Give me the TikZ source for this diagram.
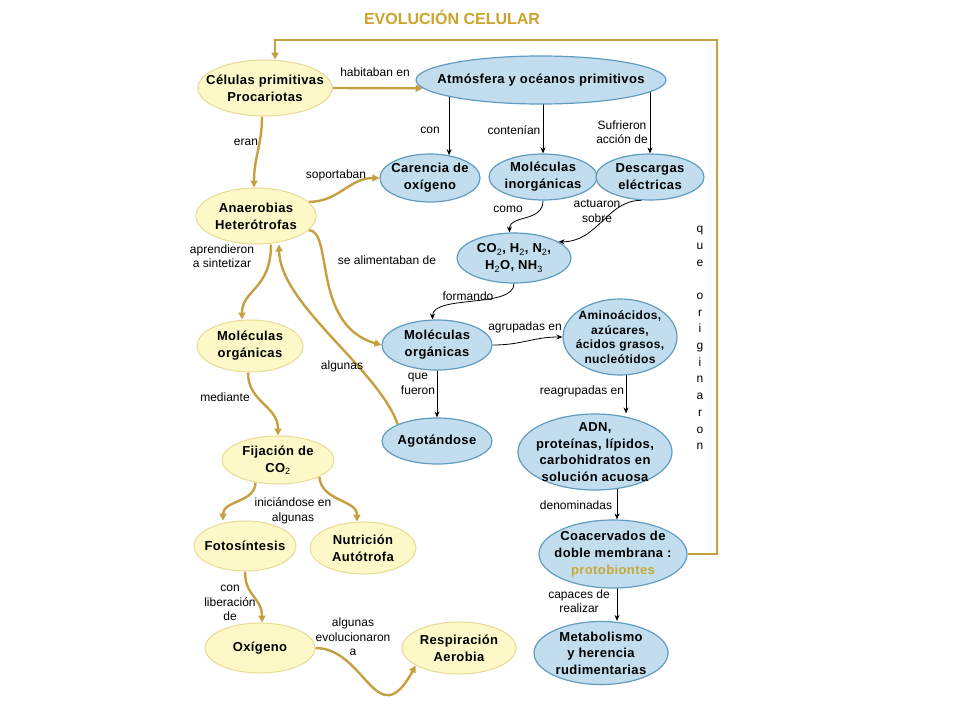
\documentclass[tikz,border=0pt]{standalone}
\usepackage{fontspec}
\setmainfont{Liberation Sans}
\newfontfamily\nodefont[LetterSpace=3]{Liberation Sans}
\usetikzlibrary{shapes.geometric,arrows.meta}
\pgfdeclarelayer{bg}
\pgfsetlayers{bg,main}
\definecolor{goldL}{RGB}{196,160,64}
\definecolor{titleC}{RGB}{204,164,44}
\definecolor{protoC}{RGB}{200,168,52}
\definecolor{yelF}{RGB}{253,248,200}
\definecolor{yelB}{RGB}{232,218,146}
\definecolor{bluF}{RGB}{194,222,238}
\definecolor{bluB}{RGB}{96,156,190}
\begin{document}
\begin{tikzpicture}[x=1pt,y=-1pt,
  yel/.style={ellipse, draw=yelB, fill=yelF, line width=1pt, inner sep=0pt},
  blu/.style={ellipse, draw=bluB, fill=bluF, line width=1.2pt, inner sep=0pt},
  ntxt/.style={font=\nodefont\bfseries\fontsize{13}{17}\selectfont, align=center, inner sep=0pt},
  stxt/.style={font=\nodefont\bfseries\fontsize{12}{14.5}\selectfont, align=center, inner sep=0pt},
  lbl/.style={font=\fontsize{12}{14.5}\selectfont, align=center, inner sep=0pt},
  garr/.style={draw=goldL, line width=2.4pt, -{Triangle[length=7pt,width=7pt]}},
  barr/.style={draw=black, line width=0.8pt, -{Stealth[length=6pt,width=5pt]}}]
\begin{pgfonlayer}{bg}
\fill[white] (0,0) rectangle (960,720);
\end{pgfonlayer}
\path[use as bounding box] (0,0) rectangle (960,720);

% title
\node[font=\bfseries\fontsize{16}{18}\selectfont, text=titleC] (title) at (452,17) {EVOLUCIÓN CELULAR};

% nodes
\node[yel,minimum width=134,minimum height=56] (cel) at (265,88) {};
\node[ntxt] (celT) at (cel) {Células primitivas\\Procariotas};
\node[blu,minimum width=250,minimum height=48] (atm) at (541,80) {};
\node[ntxt] (atmT) at (atm) {Atmósfera y océanos primitivos};
\node[blu,minimum width=100,minimum height=48] (car) at (430,178) {};
\node[ntxt] (carT) at (car) {Carencia de\\oxígeno};
\node[blu,minimum width=108,minimum height=46] (inorg) at (543,177) {};
\node[ntxt] (inorgT) at (inorg) {Moléculas\\inorgánicas};
\node[blu,minimum width=108,minimum height=46] (desc) at (650,177) {};
\node[ntxt] (descT) at (desc) {Descargas\\eléctricas};
\node[yel,minimum width=120,minimum height=56] (anae) at (256,216) {};
\node[ntxt] (anaeT) at (anae) {Anaerobias\\Heterótrofas};
\node[blu,minimum width=114,minimum height=50] (co2) at (514,258) {};
\node[ntxt] (co2T) at (co2) {CO\textsubscript{\mdseries 2}, H\textsubscript{\mdseries 2}, N\textsubscript{\mdseries 2},\\H\textsubscript{\mdseries 2}O, NH\textsubscript{\mdseries 3}};
\node[yel,minimum width=106,minimum height=52] (moly) at (250,346) {};
\node[ntxt] (molyT) at (moly) {Moléculas\\orgánicas};
\node[blu,minimum width=110,minimum height=50] (molo) at (437,345) {};
\node[ntxt] (moloT) at (molo) {Moléculas\\orgánicas};
\node[blu,minimum width=114,minimum height=76] (amino) at (620,337) {};
\node[stxt] (aminoT) at (amino) {Aminoácidos,\\azúcares,\\ácidos grasos,\\nucleótidos};
\node[blu,minimum width=110,minimum height=46] (agot) at (437,441) {};
\node[ntxt] (agotT) at (agot) {Agotándose};
\node[blu,minimum width=154,minimum height=76] (adn) at (595,452) {};
\node[ntxt,font=\nodefont\bfseries\fontsize{13}{16.5}\selectfont] (adnT) at (adn) {ADN,\\proteínas, lípidos,\\carbohidratos en\\solución acuosa};
\node[yel,minimum width=112,minimum height=48] (fij) at (278,460) {};
\node[ntxt] (fijT) at (fij) {Fijación de\\CO\textsubscript{\mdseries 2}};
\node[yel,minimum width=102,minimum height=50] (foto) at (245,546) {};
\node[ntxt] (fotoT) at (foto) {Fotosíntesis};
\node[yel,minimum width=106,minimum height=52] (nut) at (363,548) {};
\node[ntxt] (nutT) at (nut) {Nutrición\\Autótrofa};
\node[blu,minimum width=148,minimum height=68] (coac) at (613,554) {};
\node[ntxt] (coacT) at (coac) {Coacervados de\\doble membrana :\\{\color{protoC}protobiontes}};
\node[yel,minimum width=110,minimum height=50] (oxi) at (260,648) {};
\node[ntxt] (oxiT) at (oxi) {Oxígeno};
\node[yel,minimum width=114,minimum height=52] (resp) at (459,648) {};
\node[ntxt] (respT) at (resp) {Respiración\\Aerobia};
\node[blu,minimum width=134,minimum height=63] (meta) at (601,653) {};
\node[ntxt,font=\nodefont\bfseries\fontsize{13}{16.5}\selectfont] (metaT) at (meta) {Metabolismo\\y herencia\\rudimentarias};

% labels
\node[lbl] (l1) at (375,72) {habitaban en};
\node[lbl] (l2) at (430,130) {con};
\node[lbl] (l3) at (514,130) {contenían};
\node[lbl] (l4) at (622,132) {Sufrieron\\acción de};
\node[lbl] (l5) at (246,142) {eran};
\node[lbl] (l6) at (336,175) {soportaban};
\node[lbl] (l7) at (508,209) {como};
\node[lbl] (l8) at (597,211) {actuaron\\sobre};
\node[lbl] (l9) at (222,256) {aprendieron\\a sintetizar};
\node[lbl] (l10) at (387,260) {se alimentaban de};
\node[lbl] (l11) at (468,296) {formando};
\node[lbl] (l12) at (525,327) {agrupadas en};
\node[lbl] (l13) at (342,366) {algunas};
\node[lbl] (l14) at (418,384) {que\\fueron};
\node[lbl] (l15) at (225,397) {mediante};
\node[lbl] (l16) at (582,391) {reagrupadas en};
\node[lbl] (l17) at (293,511) {iniciándose en\\algunas};
\node[lbl] (l18) at (576,505) {denominadas};
\node[lbl] (l19) at (230,603) {con\\liberación\\de};
\node[lbl] (l20) at (579,601) {capaces de\\realizar};
\node[lbl] (l21) at (353,637) {algunas\\evolucionaron\\a};
\node[lbl,font=\fontsize{12}{16.7}\selectfont] (orig) at (700,338) {q\\u\\e\\[16.7pt]o\\r\\i\\g\\i\\n\\a\\r\\o\\n};

% connectors
\coordinate (lpR) at (717,40);
\coordinate (lpL) at (275,40);
\coordinate (dnx) at ([xshift=4pt]coac.north);
\coordinate (cpx) at ([xshift=4pt]coac.center);
\coordinate (rgx) at ([xshift=6pt]amino.center);
\begin{pgfonlayer}{bg}
\draw[barr] (car.50 |- atm.center) -- (car.50);
\draw[barr] (inorg.north |- atm.center) -- (inorg.north);
\draw[barr] (desc.north |- atm.center) -- (desc.north);
\draw[barr] (inorg.south) .. controls +(0,22) and +(0,-18) .. (co2.100);
\draw[barr] (desc.-110) .. controls +(-35,0) and +(40,0) .. (co2.20);
\draw[barr] (co2.south) .. controls +(0,25) and +(0,-25) .. (molo.100);
\draw[barr] (molo.east) .. controls +(30,0) and +(-30,0) .. (amino.west);
\draw[barr] (molo.south) -- (agot.north);
\draw[barr] (rgx) -- (rgx |- adn.north);
\draw[barr] (dnx |- adn.center) -- (dnx);
\draw[barr] (cpx) -- (cpx |- meta.north);

\draw[garr] (cel.east) -- (atm.184);
\draw[garr] (coac.east) -| (lpR) -- (lpL) -- (lpL |- cel.north);
\draw[garr] ([xshift=-3pt]cel.south) .. controls +(0,28) and +(0,-30) .. ([xshift=-2pt]anae.north);
\draw[garr] (anae.15) .. controls +(30,0) and +(-30,0) .. (car.west);
\draw[garr] (anae.-15) .. controls +(25,0) and +(-70,-20) .. (molo.west);
\draw[garr] ([xshift=15pt]anae.south) .. controls +(0,45) and +(0,-30) .. ([xshift=-8pt]moly.north);
\draw[garr] (agot.north west) .. controls +(-19,-55) and +(1,60) .. ([xshift=23pt]anae.south);
\draw[garr] ([xshift=-2pt]moly.south) .. controls +(0,30) and +(0,-30) .. (fij.north);
\draw[garr] (fij.-135) .. controls +(0,20) and +(0,-20) .. ([xshift=-22pt]foto.north);
\draw[garr] (fij.-22) .. controls +(2,25) and +(0,-22) .. ([xshift=-6pt]nut.north);
\draw[garr] (foto.south) .. controls +(0,25) and +(0,-25) .. ([xshift=2pt]oxi.north);
\draw[garr] (oxi.east) .. controls +(50,0) and +(-39,71) .. (resp.-158);
\end{pgfonlayer}
\end{tikzpicture}
\end{document}
